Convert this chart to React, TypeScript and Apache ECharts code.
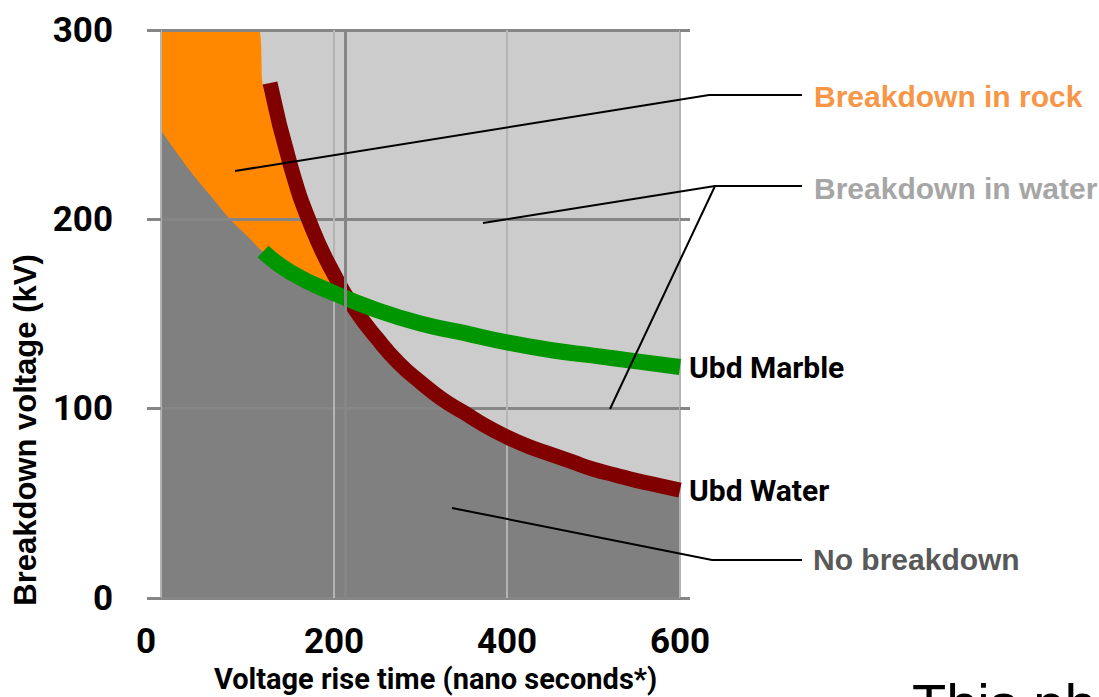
import React, { useEffect, useRef } from 'react';
import * as echarts from 'echarts';

const xTicks = [0, 200, 400, 600];
const yTicks = [0, 100, 200, 300];

// Ubd Water (dark red line)
const waterX = [126, 150, 175, 200, 225, 250, 275, 300, 325, 350, 375, 400, 425, 450, 475, 500, 525, 550, 575, 600];
const waterY = [272, 228, 195, 171, 152, 137, 124, 114, 105, 98, 91, 85, 80, 76, 72, 68, 65, 62, 59.5, 57];

// Ubd Marble (green line)
const marbleX = [118, 150, 200, 250, 300, 350, 400, 450, 500, 550, 600];
const marbleY = [183, 172, 161, 152, 145, 140, 135, 131, 128, 125, 122];

// Breakdown in rock (orange region upper boundary)
const rockX = [0, 113, 117, 120, 130, 140, 150, 165, 185, 207, 230, 260, 300, 400, 500, 600];
const rockY = [300, 300, 273, 266, 252, 239, 222, 200, 180, 162, 147, 131, 112, 84, 67, 56];

// No breakdown (dark grey region upper boundary)
const noBdX = [0, 20, 40, 60, 80, 100, 120, 150, 180, 200, 218, 250, 275, 300, 350, 400, 450, 500, 550, 600];
const noBdY = [247, 234, 222, 211, 200, 191, 182, 172, 165, 161, 157.5, 137, 124, 114, 98, 85, 76, 68, 62, 57];

// extra dark vertical reference line
const refLineX = [213];

const seriesNames = ['Ubd Water', 'Ubd Marble'];
const regionNames = ['Breakdown in rock', 'Breakdown in water', 'No breakdown'];

export default function App() {
  const ref = useRef<HTMLDivElement>(null);
  useEffect(() => {
    document.body.style.margin = '0';
    document.body.style.overflow = 'hidden';
    document.documentElement.style.overflow = 'hidden';
    const chart = echarts.init(ref.current as HTMLDivElement, null, { renderer: 'svg' });
    const pair = (xs: number[], ys: number[]) => xs.map((x, i) => [x, ys[i]]);
    const tickFont = { fontFamily: 'Roboto', fontWeight: 'bold' as const, fontSize: 35, color: '#000' };
    const annFont = { fontFamily: '"Liberation Sans", Arial, sans-serif', fontWeight: 'bold' as const, fontSize: 30 };
    const step = yTicks[1] - yTicks[0];
    const option: any = {
      animation: false,
      backgroundColor: '#ffffff',
      grid: {
        left: 161, right: 419, top: 30, bottom: 99,
        outerBoundsMode: 'none', containLabel: false,
        show: true, backgroundColor: '#cccccc', borderWidth: 0, z: 0,
      },
      xAxis: {
        type: 'value',
        min: xTicks[0],
        max: xTicks[xTicks.length - 1],
        interval: xTicks[1] - xTicks[0],
        z: 3,
        axisLine: { show: false },
        axisTick: { show: false },
        splitLine: { show: true, lineStyle: { color: '#b4b4b4', width: 2 } },
        axisLabel: {
          ...tickFont,
          margin: 26,
          formatter: (v: number) => (v === 0 ? '{z|0}' : String(v)),
          rich: { z: { ...tickFont, padding: [0, 30, 0, 0] } },
        },
        name: 'Voltage rise time (nano seconds*)',
        nameLocation: 'middle',
        nameGap: 66,
        nameTextStyle: { fontFamily: 'Roboto', fontWeight: 'bold', fontSize: 29, color: '#000', padding: [0, 0, 0, 30] },
      },
      yAxis: [
        {
          type: 'value',
          min: yTicks[0],
          max: yTicks[yTicks.length - 1],
          interval: step,
          z: 3,
          axisLine: { show: false },
          axisTick: { show: true, length: 14, lineStyle: { color: '#868686', width: 3 } },
          splitLine: { show: true, lineStyle: { color: '#868686', width: 3 } },
          axisLabel: { ...tickFont, margin: 48 },
        },
        {
          type: 'value',
          position: 'right',
          min: yTicks[0],
          max: yTicks[yTicks.length - 1],
          interval: step,
          z: 3,
          axisLine: { show: false },
          axisTick: { show: true, length: 10, lineStyle: { color: '#868686', width: 3 } },
          splitLine: { show: false },
          axisLabel: { show: false },
        },
      ],
      series: [
        {
          name: regionNames[0],
          type: 'line',
          z: 1,
          data: pair(rockX, rockY),
          smooth: 0.25,
          symbol: 'none',
          lineStyle: { width: 0 },
          areaStyle: { color: '#ff8800', opacity: 1 },
          silent: true,
        },
        {
          name: regionNames[2],
          type: 'line',
          z: 2,
          data: pair(noBdX, noBdY),
          smooth: 0.5,
          symbol: 'none',
          lineStyle: { width: 0 },
          areaStyle: { color: '#808080', opacity: 1 },
          silent: true,
          markLine: {
            silent: true,
            symbol: 'none',
            label: { show: false },
            lineStyle: { color: '#868686', width: 3, type: 'solid' },
            data: refLineX.map((x) => ({ xAxis: x })),
          },
        },
        {
          name: seriesNames[0],
          type: 'line',
          z: 4,
          data: pair(waterX, waterY),
          smooth: 0.5,
          symbol: 'none',
          lineStyle: { color: '#800000', width: 15, cap: 'butt' },
          endLabel: { show: true, formatter: seriesNames[0], distance: 9, ...tickFont, fontSize: 30 },
        },
        {
          name: seriesNames[1],
          type: 'line',
          z: 4,
          data: pair(marbleX, marbleY),
          smooth: 0.5,
          symbol: 'none',
          lineStyle: { color: '#009600', width: 16, cap: 'butt' },
          endLabel: { show: true, formatter: seriesNames[1], distance: 9, ...tickFont, fontSize: 30 },
        },
      ],
      graphic: [
        { type: 'polyline', z: 10, shape: { points: [[235, 171], [709, 95], [802, 95]] }, style: { stroke: '#000', lineWidth: 2, fill: 'none' } },
        { type: 'polyline', z: 10, shape: { points: [[483, 223], [715, 186], [802, 186]] }, style: { stroke: '#000', lineWidth: 2, fill: 'none' } },
        { type: 'polyline', z: 10, shape: { points: [[610, 409], [715, 186]] }, style: { stroke: '#000', lineWidth: 2, fill: 'none' } },
        { type: 'polyline', z: 10, shape: { points: [[452, 508], [712, 560], [802, 560]] }, style: { stroke: '#000', lineWidth: 2, fill: 'none' } },
        { type: 'text', z: 10, x: 814, y: 96, style: { text: regionNames[0], ...annFont, fill: '#f79646', verticalAlign: 'middle' } },
        { type: 'text', z: 10, x: 814, y: 188, style: { text: regionNames[1], ...annFont, fill: '#a6a6a6', verticalAlign: 'middle' } },
        { type: 'text', z: 10, x: 813, y: 559, style: { text: regionNames[2], ...annFont, fill: '#595959', verticalAlign: 'middle' } },
        {
          type: 'text', z: 10, x: 25, y: 430, rotation: Math.PI / 2,
          style: { text: 'Breakdown voltage (kV)', ...annFont, fontSize: 31, fill: '#000', align: 'center', verticalAlign: 'middle' },
        },
        { type: 'text', z: 10, x: 912, y: 675, style: { text: 'This ph', fontFamily: '"Liberation Sans", Arial, sans-serif', fontSize: 56, fill: '#000', verticalAlign: 'top' } },
      ],
    };
    chart.setOption(option);
    return () => chart.dispose();
  }, []);
  return <div ref={ref} style={{ width: 1099, height: 697, overflow: 'hidden' }} />;
}
